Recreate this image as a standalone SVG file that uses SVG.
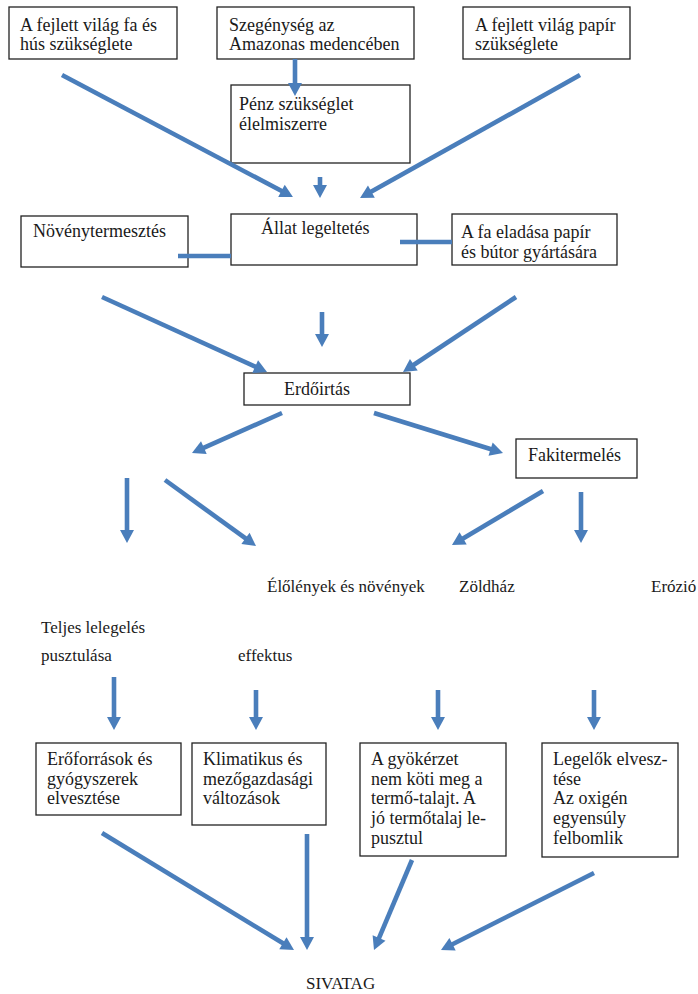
<svg xmlns="http://www.w3.org/2000/svg" width="698" height="994" viewBox="0 0 698 994">
  <style>
    .box rect { fill: #ffffff; stroke: #222222; stroke-width: 1.3; }
    .box text { font-family: "Liberation Serif", "DejaVu Serif", serif; font-size: 18px; fill: #1a1a1a; }
    .free { font-family: "Liberation Serif", "DejaVu Serif", serif; font-size: 17px; fill: #1a1a1a; }
    .conn line { stroke: #4a7ebb; stroke-width: 4.6; fill: none; }
    .conn line.arrow { marker-end: url(#head); }
  </style>
  <defs>
    <marker id="head" markerUnits="userSpaceOnUse" markerWidth="14" markerHeight="14" refX="4" refY="7" orient="auto" overflow="visible">
      <path d="M0,0 L13,7 L0,14 z" fill="#4a7ebb"/>
    </marker>
  </defs>

  <rect width="698" height="994" fill="#ffffff"/>

  <!-- top row -->
  <g id="fejlett-fa" class="box">
    <rect x="9" y="7" width="168" height="52"/>
    <text x="20" y="30.5">A fejlett világ fa és</text>
    <text x="20" y="50">hús szükséglete</text>
  </g>
  <g id="szegenyseg" class="box">
    <rect x="217" y="7" width="197" height="52"/>
    <text x="229" y="30.5">Szegénység az</text>
    <text x="229" y="50">Amazonas medencében</text>
  </g>
  <g id="fejlett-papir" class="box">
    <rect x="463" y="7" width="167" height="52"/>
    <text x="475" y="30.5">A fejlett világ papír</text>
    <text x="475" y="50">szükséglete</text>
  </g>
  <g id="penz" class="box">
    <rect x="231" y="85" width="179" height="78"/>
    <text x="239" y="110">Pénz szükséglet</text>
    <text x="239" y="129.5">élelmiszerre</text>
  </g>

  <!-- second row -->
  <g id="novenytermesztes" class="box">
    <rect x="21" y="216" width="167" height="51"/>
    <text x="33" y="237">Növénytermesztés</text>
  </g>
  <g id="allat" class="box">
    <rect x="231" y="214" width="186" height="51"/>
    <text x="261" y="234">Állat legeltetés</text>
  </g>
  <g id="fa-eladasa" class="box">
    <rect x="452" y="214" width="165" height="51"/>
    <text x="461" y="238">A fa eladása papír</text>
    <text x="461" y="258">és bútor gyártására</text>
  </g>

  <g id="erdoirtas" class="box">
    <rect x="244" y="373" width="166" height="32"/>
    <text x="284" y="395">Erdőirtás</text>
  </g>
  <g id="fakitermeles" class="box">
    <rect x="516" y="439" width="121" height="39"/>
    <text x="528" y="461">Fakitermelés</text>
  </g>

  <!-- unboxed labels -->
  <g id="labels" class="free">
    <text x="267" y="592">Élőlények és növények</text>
    <text x="459" y="592">Zöldház</text>
    <text x="651" y="592">Erózió</text>
    <text x="41" y="633">Teljes lelegelés</text>
    <text x="41" y="661">pusztulása</text>
    <text x="238" y="661">effektus</text>
  </g>

  <!-- consequence boxes -->
  <g id="eroforrasok" class="box">
    <rect x="36" y="743" width="145" height="72"/>
    <text x="47" y="765">Erőforrások és</text>
    <text x="47" y="784.5">gyógyszerek</text>
    <text x="47" y="804">elvesztése</text>
  </g>
  <g id="klimatikus" class="box">
    <rect x="192" y="743" width="134" height="82"/>
    <text x="203" y="765">Klimatikus és</text>
    <text x="203" y="784.5">mezőgazdasági</text>
    <text x="203" y="804">változások</text>
  </g>
  <g id="gyokerzet" class="box">
    <rect x="360" y="743" width="146" height="113"/>
    <text x="371" y="765">A gyökérzet</text>
    <text x="371" y="784.5">nem köti meg a</text>
    <text x="371" y="804">termő-talajt. A</text>
    <text x="371" y="824">jó termőtalaj le-</text>
    <text x="371" y="844">pusztul</text>
  </g>
  <g id="legelok" class="box">
    <rect x="542" y="743" width="136" height="114"/>
    <text x="553" y="765">Legelők elvesz-</text>
    <text x="553" y="784.5">tése</text>
    <text x="553" y="804">Az oxigén</text>
    <text x="553" y="824">egyensúly</text>
    <text x="553" y="844">felbomlik</text>
  </g>

  <g id="sivatag">
    <text class="free" x="306" y="989">SIVATAG</text>
  </g>

  <!-- connectors, drawn over the box edges they touch -->
  <g id="connectors" class="conn">
    <line class="arrow" x1="62" y1="75" x2="285" y2="192.8"/>
    <line class="arrow" x1="295" y1="59" x2="295" y2="87"/>
    <line class="arrow" x1="320" y1="177" x2="320" y2="189"/>
    <line class="arrow" x1="580" y1="75" x2="367.9" y2="193.6"/>
    <line x1="178" y1="256" x2="231" y2="256"/>
    <line x1="400" y1="242" x2="452" y2="242"/>
    <line class="arrow" x1="102" y1="297" x2="258.8" y2="368.3"/>
    <line class="arrow" x1="322" y1="312" x2="322" y2="338"/>
    <line class="arrow" x1="516" y1="297" x2="410.5" y2="367"/>
    <line class="arrow" x1="282" y1="413" x2="200.2" y2="449.3"/>
    <line class="arrow" x1="374" y1="413" x2="494.4" y2="450.3"/>
    <line class="arrow" x1="127" y1="478" x2="127" y2="534"/>
    <line class="arrow" x1="165" y1="480" x2="248.7" y2="540.7"/>
    <line class="arrow" x1="543" y1="491" x2="459.7" y2="540.4"/>
    <line class="arrow" x1="581" y1="492" x2="581" y2="534"/>
    <line class="arrow" x1="114" y1="677" x2="114" y2="721"/>
    <line class="arrow" x1="256" y1="690" x2="256" y2="721"/>
    <line class="arrow" x1="438" y1="690" x2="438" y2="721"/>
    <line class="arrow" x1="594" y1="690" x2="594" y2="721"/>
    <line class="arrow" x1="102" y1="833" x2="286.3" y2="945.3"/>
    <line class="arrow" x1="307" y1="834" x2="307" y2="941"/>
    <line class="arrow" x1="412" y1="860" x2="377.5" y2="941.7"/>
    <line class="arrow" x1="594" y1="873" x2="449" y2="946"/>
  </g>
</svg>
